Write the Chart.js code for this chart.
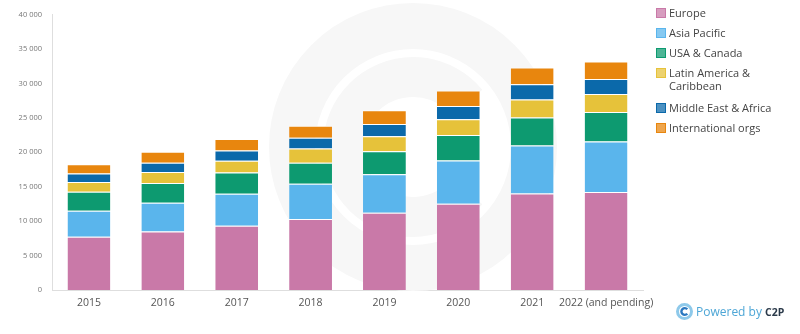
<!DOCTYPE html>
<html>
<head>
<meta charset="utf-8">
<script src="https://cdn.jsdelivr.net/npm/chart.js@4.4.1/dist/chart.umd.min.js"></script>
<style>
  html, body { margin: 0; padding: 0; background: #fff; }
  #wrap { position: relative; width: 800px; height: 334px; font-family: 'Open Sans', sans-serif; }
  #legend { position: absolute; left: 656px; top: 6px; margin: 0; padding: 0; list-style: none; }
  #legend li { position: relative; padding-left: 13px; font-size: 11px; line-height: 13px; color: #444; margin-bottom: 7px; width: 120px; }
  #legend li.wrap2 { margin-top: 2px; margin-bottom: 9px; }
  #legend li span { position: absolute; left: 0; top: 2px; width: 8px; height: 8px; border: 1px solid; }
  #brand { position: absolute; left: 676px; top: 303px; font-size: 12px; color: #4da6d6; display: flex; align-items: center; }
  #brand b { color: #2b3a4a; margin-left: 3px; font-size: 10.5px; }
  #brand svg { margin-right: 3px; }
</style>
</head>
<body>
<div id="wrap">
  <canvas id="myChart" width="800" height="334"></canvas>
  <ul id="legend"></ul>
  <div id="brand">
    <svg width="17" height="17" viewBox="0 0 17 17">
      <circle cx="8.5" cy="8.5" r="7" fill="none" stroke="#8ec9ea" stroke-width="3"/>
      <path d="M11.3 6.2 A3.4 3.4 0 1 0 11.3 10.8" fill="none" stroke="#2b78c0" stroke-width="2.4"/>
    </svg>
    Powered by<b>C2P</b>
  </div>
</div>
<script>
const years = ['2015', '2016', '2017', '2018', '2019', '2020', '2021', '2022 (and pending)'];
const regions = ['Europe', 'Asia Pacific', 'USA & Canada', 'Latin America & Caribbean', 'Middle East & Africa', 'International orgs'];
const colors = ['#c979a8', '#5ab5ec', '#0d9a70', '#e6c23a', '#0b69aa', '#e8860e'];

const europe    = [7740, 8500, 9320, 10320, 11230, 12520, 14000, 14240];
const asiaPac   = [3770, 4160, 4670, 5110, 5590, 6300, 6970, 7310];
const usaCanada = [2770, 2870, 3070, 3060, 3340, 3690, 4060, 4300];
const latinAm   = [1390, 1620, 1720, 2050, 2150, 2290, 2640, 2620];
const meAfrica  = [1250, 1340, 1480, 1580, 1780, 1910, 2190, 2150];
const intlOrgs  = [1330, 1580, 1680, 1720, 2000, 2250, 2440, 2540];

const series = [europe, asiaPac, usaCanada, latinAm, meAfrica, intlOrgs];

// faint logo drawn behind the bars
const watermark = {
  id: 'watermark',
  beforeDatasetsDraw(chart) {
    const ctx = chart.ctx;
    const cx = 413, cy = 147;
    ctx.save();
    ctx.strokeStyle = '#f7f7f7';
    ctx.lineWidth = 46;
    ctx.beginPath();
    ctx.arc(cx, cy, 121, 0, Math.PI * 2);
    ctx.stroke();
    ctx.lineWidth = 40;
    ctx.beginPath();
    ctx.arc(cx, cy, 70, Math.PI * 0.22, Math.PI * 1.78);
    ctx.stroke();
    ctx.restore();
  }
};

const spaced = v => String(v).replace(/\B(?=(\d{3})+(?!\d))/g, ' ');

const ctx = document.getElementById('myChart');

const myChart = new Chart(ctx, {
  type: 'bar',
  plugins: [watermark],
  data: {
    labels: years,
    datasets: regions.map((name, i) => ({
      label: name,
      data: series[i],
      backgroundColor: colors[i],
      borderColor: 'rgba(255,255,255,0.85)',
      borderWidth: { top: 1, left: 0, right: 0, bottom: 0 },
      borderSkipped: false,
      barPercentage: 0.58,
      categoryPercentage: 1
    }))
  },
  options: {
    responsive: false,
    animation: false,
    layout: { autoPadding: false, padding: { top: 11, right: 157, bottom: 0, left: 0 } },
    plugins: {
      legend: { display: false },
      tooltip: { enabled: false }
    },
    scales: {
      x: {
        stacked: true,
        afterFit: axis => { axis.height = 44; },
        grid: { display: false, drawTicks: false },
        border: { color: '#dedede' },
        ticks: {
          padding: 7,
          color: '#555',
          maxRotation: 0,
          autoSkip: false,
          font: { family: 'Open Sans', size: 10.5 }
        }
      },
      y: {
        stacked: true,
        min: 0,
        max: 40000,
        afterFit: axis => { axis.width = 52; },
        grid: { display: false, drawTicks: false },
        border: { color: '#dedede' },
        ticks: {
          stepSize: 5000,
          padding: 10,
          color: '#777',
          font: { family: 'Open Sans', size: 7.5 },
          callback: v => spaced(v)
        }
      }
    }
  }
});

// legend built from the datasets
const legend = document.getElementById('legend');
myChart.data.datasets.forEach(ds => {
  const li = document.createElement('li');
  if (ds.label.length > 22) li.className = 'wrap2';
  const sw = document.createElement('span');
  sw.style.borderColor = ds.backgroundColor;
  sw.style.background = ds.backgroundColor + 'bb';
  li.appendChild(sw);
  li.appendChild(document.createTextNode(ds.label));
  legend.appendChild(li);
});
</script>
</body>
</html>
